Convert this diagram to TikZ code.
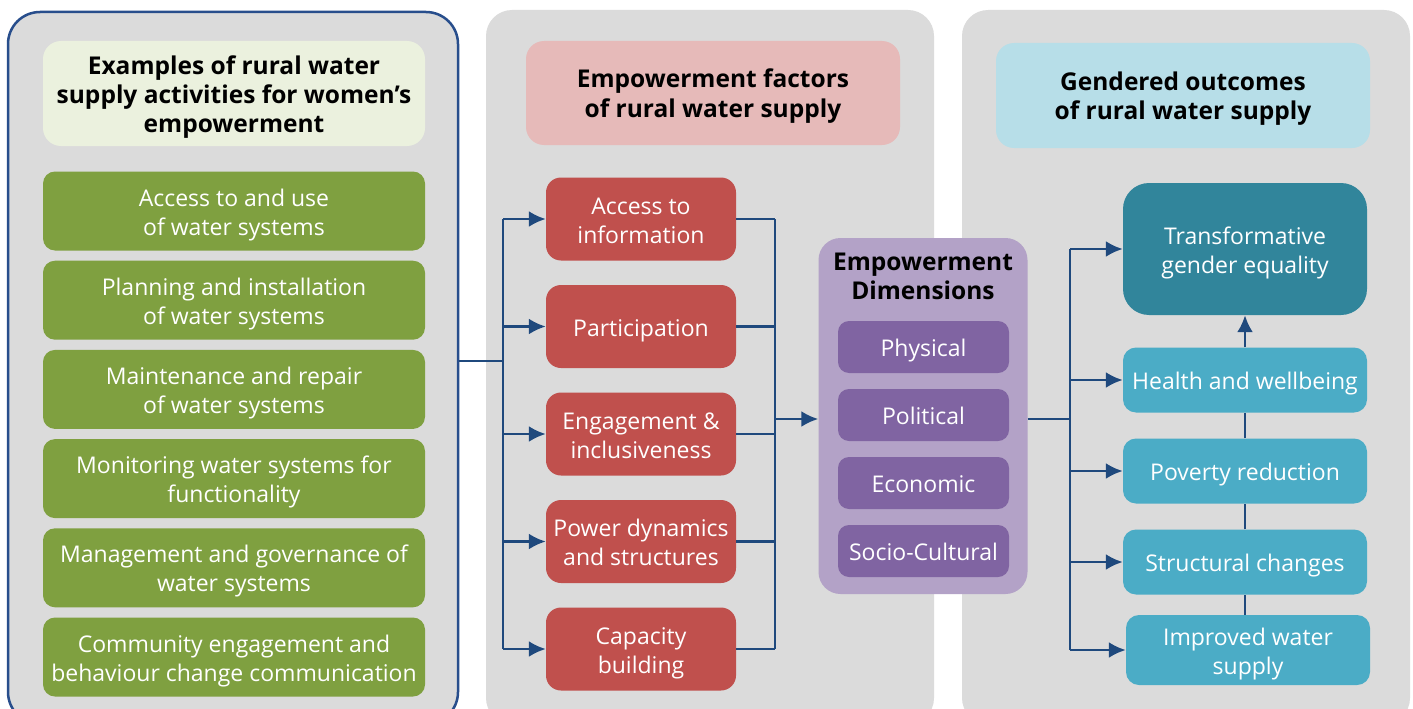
\documentclass[tikz,border=0pt]{standalone}
\usepackage{fontspec}
\setmainfont{Open Sans}
\usetikzlibrary{arrows.meta}

\definecolor{panelgrey}{RGB}{219,219,219}
\definecolor{linkblue}{RGB}{31,73,125}
\definecolor{frameblue}{RGB}{40,78,140}
\definecolor{headgreen}{RGB}{235,241,222}
\definecolor{headpink}{RGB}{230,186,185}
\definecolor{headblue}{RGB}{183,222,232}
\definecolor{actgreen}{RGB}{127,160,64}
\definecolor{factred}{RGB}{192,80,77}
\definecolor{dimlilac}{RGB}{179,162,199}
\definecolor{dimpurple}{RGB}{128,100,162}
\definecolor{outteal}{RGB}{75,172,198}
\definecolor{outdark}{RGB}{49,133,155}

% tall first line, so the text sits a little low in its box
\newcommand\topstrut{\rule{0pt}{25pt}}

\tikzset{
  lift/.style={execute at end node={\rule[-6pt]{0pt}{6pt}}},
  head/.style={lift, rounded corners=18pt, align=center, inner sep=0pt,
    font=\fontsize{24.5}{29}\selectfont\bfseries},
  box/.style={lift, rounded corners=13pt, text=white, align=center, inner sep=0pt,
    font=\fontsize{23}{29}\selectfont},
  wire/.style={draw=linkblue, line width=2.8pt},
  conn/.style={wire, -{Latex[length=17pt,width=16pt]}},
}

\begin{document}
\begin{tikzpicture}[x=1pt,y=-1pt]
   \clip (0,0) rectangle (1413,709);
   \fill[white] (0,0) rectangle (1413,709);

   % the three panels
   \node[fill=panelgrey, draw=frameblue, line width=2.5pt, rounded corners=32pt,
         minimum width=450pt, minimum height=712pt] (acts) at (233,368) {};
   \fill[panelgrey, rounded corners=26pt] (486,10) rectangle (934,724);
   \fill[panelgrey, rounded corners=26pt] (962,10) rectangle (1410,724);

   % panel headings
   \node[head, fill=headgreen, minimum width=382pt, minimum height=105pt] (h1) at (234,93.5)
     {\topstrut Examples of rural water\\supply activities for women’s\\empowerment};
   \node[head, fill=headpink, minimum width=374pt, minimum height=104pt] (h2) at (713,93)
     {\topstrut Empowerment factors\\of rural water supply};
   \node[head, fill=headblue, minimum width=374pt, minimum height=105pt] (h3) at (1183,95.5)
     {\topstrut Gendered outcomes\\of rural water supply};

   % activities
   \foreach \t [count=\i] in {{Access to and use\\of water systems},
                              {Planning and installation\\of water systems},
                              {Maintenance and repair\\of water systems},
                              {Monitoring water systems for\\functionality},
                              {Management and governance of\\water systems},
                              {Community engagement and\\behaviour change communication}}
     \node[box, fill=actgreen, rounded corners=12pt, minimum width=382pt, minimum height=79pt]
       (a\i) at (234,{211+89.2*(\i-1)}) {\topstrut\t};

   % empowerment factors
   \foreach \t [count=\i] in {{Access to\\information}, {Participation},
                              {Engagement \&\\inclusiveness},
                              {Power dynamics\\and structures}, {Capacity\\building}}
     \node[box, fill=factred, rounded corners=15pt, minimum width=190pt, minimum height=83pt]
       (f\i) at (641,{219+107.5*(\i-1)}) {\topstrut\t};

   % dimensions
   \node[fill=dimlilac, rounded corners=22pt, minimum width=209pt, minimum height=356pt]
     (dims) at (923,416) {};
   \node[head, text=black] (dimtitle) at (923,275.5) {\topstrut Empowerment\\Dimensions};
   \foreach \t [count=\i] in {Physical, Political, Economic, Socio-Cultural}
     \node[box, fill=dimpurple, rounded corners=11pt, minimum width=171pt, minimum height=52pt]
       (d\i) at (923.5,{347+68*(\i-1)}) {\topstrut\t};

   % outcomes
   \node[box, fill=outdark, rounded corners=26pt, minimum width=244pt, minimum height=132pt]
     (o1) at (1245,249) {\topstrut Transformative\\gender equality};
   \node[box, fill=outteal, minimum width=244pt, minimum height=65pt] (o2) at (1245,380)
     {\topstrut Health and wellbeing};
   \node[box, fill=outteal, minimum width=244pt, minimum height=65pt] (o3) at (1245,471)
     {\topstrut Poverty reduction};
   \node[box, fill=outteal, minimum width=244pt, minimum height=65pt] (o4) at (1245,562)
     {\topstrut Structural changes};
   \node[box, fill=outteal, minimum width=244pt, minimum height=70pt] (o5) at (1248,650)
     {\topstrut Improved water\\supply};

   % activities to factors
   \coordinate (lbus) at (503,361);
   \draw[wire] (acts.east |- lbus) -- (lbus);
   \draw[wire] (lbus |- f1) -- (lbus |- f5);
   \foreach \i in {1,...,5}
     \draw[conn] (lbus |- f\i) -- (f\i.west);

   % factors to dimensions
   \coordinate (rbus) at (775,419);
   \foreach \i in {1,...,5}
     \draw[wire] (f\i.east) -- (rbus |- f\i);
   \draw[wire] (rbus |- f1) -- (rbus |- f5);
   \draw[conn] (rbus) -- (dims.west |- rbus);

   % dimensions to outcomes
   \coordinate (obus) at (1070,419);
   \draw[wire] (dims.east |- obus) -- (obus);
   \draw[wire] (obus |- o1) -- (obus |- o5);
   \foreach \i in {1,...,5}
     \draw[conn] (obus |- o\i) -- (o\i.west);

   % outcome chain
   \draw[wire] (o5.north -| o4) -- (o4.south);
   \draw[wire] (o4.north) -- (o3.south);
   \draw[wire] (o3.north) -- (o2.south);
   \draw[conn] (o2.north) -- (o1.south);
\end{tikzpicture}
\end{document}
